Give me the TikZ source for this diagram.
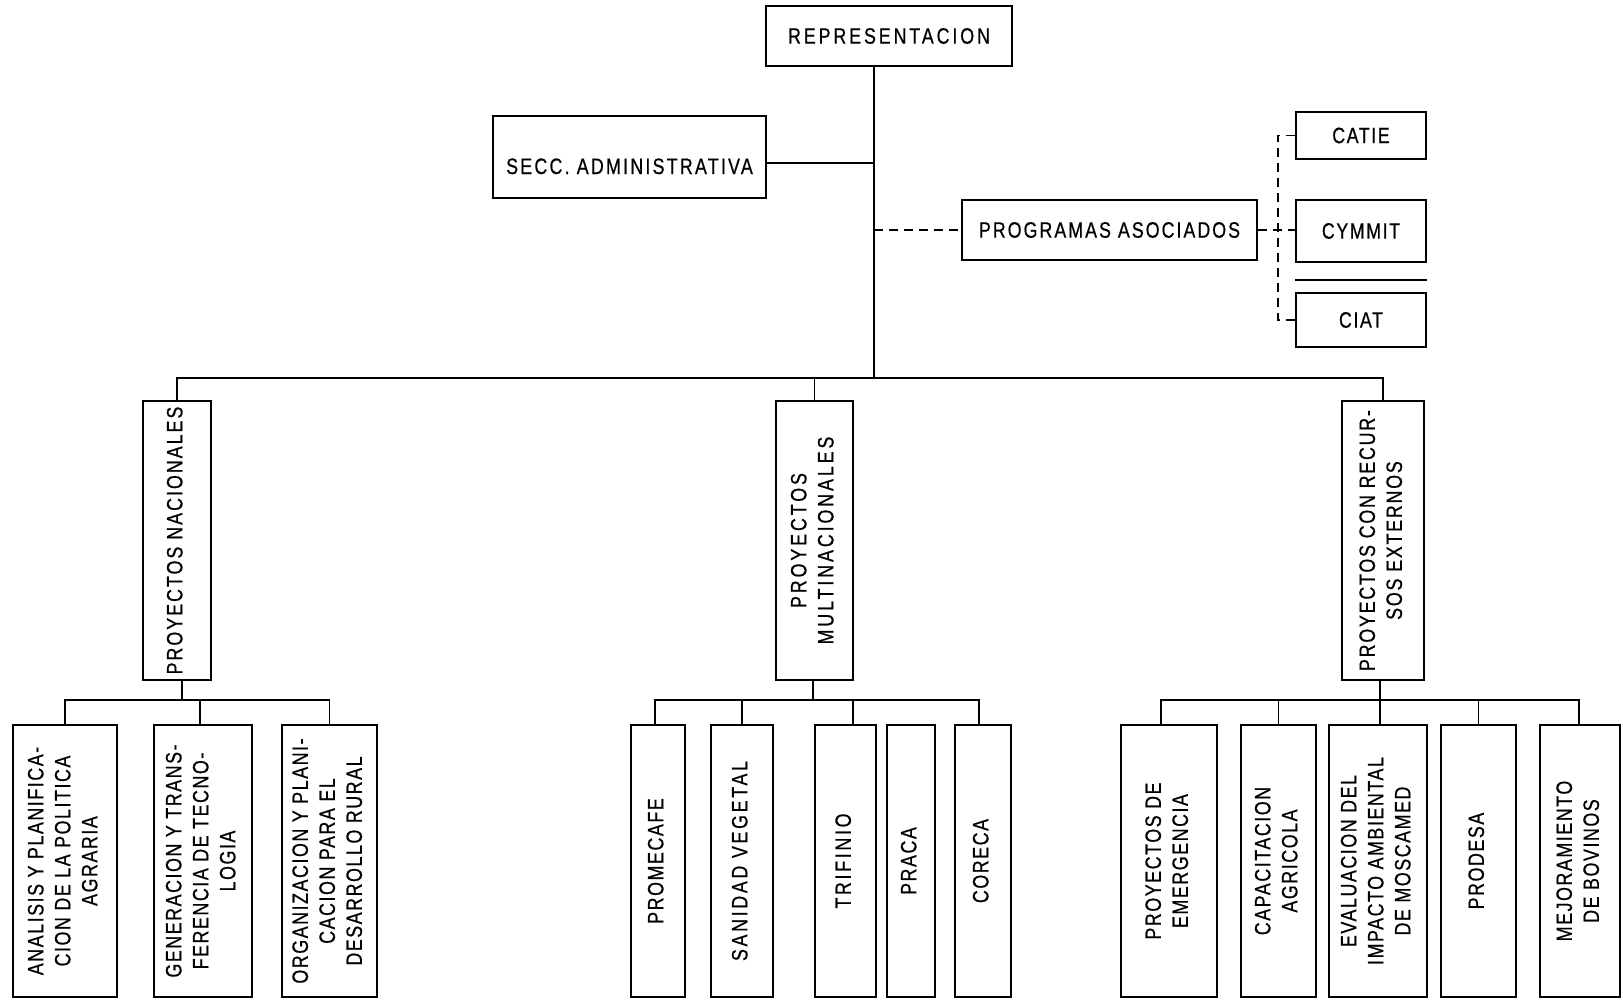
\documentclass[tikz,border=0pt]{standalone}
\usepackage{fontspec}
\setmainfont{Liberation Sans}[FakeStretch=0.8,LetterSpace=7,FakeBold=0.6]
\usepackage{graphicx}
\newcommand{\vtext}[1]{\rotatebox{90}{\begin{tabular}{@{}c@{}}#1\end{tabular}}}
\newcommand{\ls}[1]{\addfontfeatures{LetterSpace=#1}}
\begin{document}
\begin{tikzpicture}[x=1pt,y=-1pt,
  box/.style={draw,line width=1.6pt,rectangle,inner sep=0pt,font=\fontsize{22.3}{27}\selectfont},
  conn/.style={line width=1.6pt},
  dconn/.style={line width=1.6pt,dash pattern=on 9pt off 6pt}]
\useasboundingbox (0,0) rectangle (1623,999);
% top
\node[box,minimum width=246pt,minimum height=60pt] (rep) at (889,36) {\ls{13}REPRESENTACION};
\node[box,minimum width=273pt,minimum height=82pt,text height=34pt,text depth=0pt] (secc) at (629.5,157) {\ls{10}SECC. ADMINISTRATIVA};
\node[box,minimum width=295pt,minimum height=60pt] (prog) at (1109.5,230) {\ls{9}PROGRAMAS ASOCIADOS};
\node[box,minimum width=130pt,minimum height=47pt] (catie) at (1361,135.5) {CATIE};
\node[box,minimum width=130pt,minimum height=62pt] (cymmit) at (1361,231) {CYMMIT};
\node[box,minimum width=130pt,minimum height=54pt] (ciat) at (1361,320) {CIAT};
% second level
\node[box,minimum width=68pt,minimum height=279pt] (pn) at (177,540.5) {\ls{9}\vtext{PROYECTOS NACIONALES}};
\node[box,minimum width=77pt,minimum height=279pt] (pm) at (814.5,540.5) {\ls{13}\vtext{PROYECTOS\\MULTINACIONALES}};
\node[box,minimum width=82pt,minimum height=279pt] (pcre) at (1383,540.5) {\ls{8}\vtext{PROYECTOS CON RECUR-\\SOS EXTERNOS}};
% third level
\node[box,minimum width=104pt,minimum height=272pt] (a1) at (65,861) {\vtext{ANALISIS Y PLANIFICA-\\CION DE LA POLITICA\\AGRARIA}};
\node[box,minimum width=98pt,minimum height=272pt] (a2) at (203,861) {\vtext{GENERACION Y TRANS-\\FERENCIA DE TECNO-\\LOGIA}};
\node[box,minimum width=95pt,minimum height=272pt] (a3) at (329.5,861) {\vtext{ORGANIZACION Y PLANI-\\CACION PARA EL\\DESARROLLO RURAL}};
\node[box,minimum width=54pt,minimum height=272pt] (b1) at (658,861) {\vtext{PROMECAFE}};
\node[box,minimum width=62pt,minimum height=272pt] (b2) at (742,861) {\ls{12}\vtext{SANIDAD VEGETAL}};
\node[box,minimum width=61pt,minimum height=272pt] (b3) at (845.5,861) {\ls{12}\vtext{TRIFINIO}};
\node[box,minimum width=48pt,minimum height=272pt] (b4) at (911,861) {\vtext{PRACA}};
\node[box,minimum width=56pt,minimum height=272pt] (b5) at (983,861) {\vtext{CORECA}};
\node[box,minimum width=96pt,minimum height=272pt] (c1) at (1169,861) {\vtext{PROYECTOS DE\\EMERGENCIA}};
\node[box,minimum width=75pt,minimum height=272pt] (c2) at (1278.5,861) {\vtext{CAPACITACION\\AGRICOLA}};
\node[box,minimum width=98pt,minimum height=272pt] (c3) at (1378,861) {\vtext{EVALUACION DEL\\IMPACTO AMBIENTAL\\DE MOSCAMED}};
\node[box,minimum width=75pt,minimum height=272pt] (c4) at (1478.5,861) {\vtext{PRODESA}};
\node[box,minimum width=80pt,minimum height=272pt] (c5) at (1580,861) {\vtext{MEJORAMIENTO\\DE BOVINOS}};
% junction coordinates
\coordinate (T) at (874,378);
\coordinate (B) at (0,700);
\coordinate (DV) at (1278,0);
% trunk
\draw[conn] (rep.south -| T) -- (T);
\draw[conn] ([yshift=-6pt]secc.east) -- ([yshift=-6pt]secc.east -| T);
\draw[dconn] (prog.west -| T) -- (prog.west);
\draw[dconn] (prog.east) -- (prog.east -| cymmit.west);
\draw[dconn] (catie.west) -- (catie.west -| DV) -- (ciat.west -| DV) -- (ciat.west);
\draw[conn] ([yshift=12pt]ciat.north west) -- ([yshift=12pt]ciat.north east);
% second-level bus
\draw[conn] (pn.north) -- (pn.north |- T) -- (pcre.north |- T) -- (pcre.north);
\draw[conn] (pm.north) -- (pm.north |- T);
% PN group
\draw[conn] ([xshift=5pt]pn.south) -- ([xshift=5pt]pn.south |- B);
\draw[conn] (a1.north) -- (a1.north |- B) -- (a3.north |- B) -- (a3.north);
\draw[conn] ([xshift=-3pt]a2.north) -- ([xshift=-3pt]a2.north |- B);
% PM group
\draw[conn] ([xshift=-1.5pt]pm.south) -- ([xshift=-1.5pt]pm.south |- B);
\draw[conn] ([xshift=-3pt]b1.north) -- ([xshift=-3pt]b1.north |- B) -- ([xshift=-4pt]b5.north |- B) -- ([xshift=-4pt]b5.north);
\draw[conn] (b2.north) -- (b2.north |- B);
\draw[conn] ([xshift=7.5pt]b3.north) -- ([xshift=7.5pt]b3.north |- B);
% PCRE group
\draw[conn] ([xshift=-3pt]pcre.south) -- ([xshift=-3pt]pcre.south |- B);
\draw[conn] ([xshift=-8pt]c1.north) -- ([xshift=-8pt]c1.north |- B) -- ([xshift=-1pt]c5.north |- B) -- ([xshift=-1pt]c5.north);
\draw[conn] (c2.north) -- (c2.north |- B);
\draw[conn] ([xshift=2pt]c3.north) -- ([xshift=2pt]c3.north |- B);
\draw[conn] (c4.north) -- (c4.north |- B);
\end{tikzpicture}
\end{document}
